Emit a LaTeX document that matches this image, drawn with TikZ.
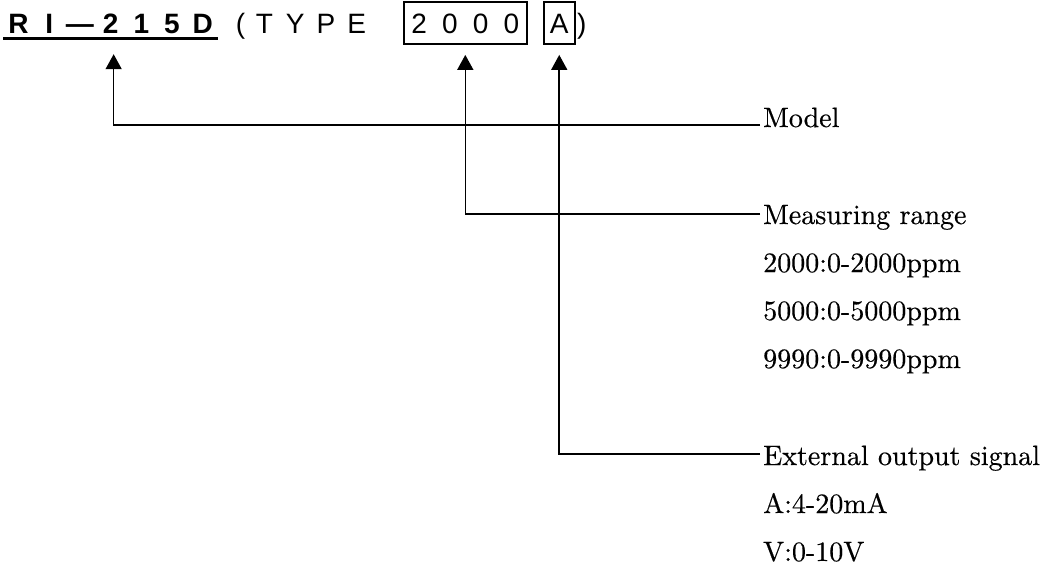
\documentclass[tikz,border=0pt]{standalone}
\usepackage{fontspec}
\setmainfont{lmroman10-regular.otf}[FakeBold=0.4]
\newfontfamily\gothic{Liberation Sans}
\usetikzlibrary{arrows.meta,positioning}
\newcommand\zw[1]{\makebox[30.7pt]{#1}}
\tikzset{x=1pt,y=-1pt,
  every node/.style={font=\fontsize{28}{30}\selectfont},
  title/.style={font=\fontsize{28}{30}\selectfont\gothic,inner sep=0pt,
    text height=20pt,text depth=0pt,anchor=base west},
  codebox/.style={title,draw,line width=1.8pt,inner ysep=11pt},
  label/.style={inner xsep=3pt,inner ysep=0pt,anchor=base west},
  lead/.style={line width=1.6pt,-{Triangle[width=16pt,length=15pt]}}}

\begin{document}
\begin{tikzpicture}
\useasboundingbox (0,0) rectangle (1044,566);
% type code
\node[title,font=\fontsize{28}{30}\selectfont\gothic\bfseries,inner ysep=5.5pt] (model) at (3,33)
  {\zw{R}\zw{I}\zw{—}\zw{2}\zw{1}\zw{5}\zw{D}};
\draw[line width=2.5pt] (model.south west) -- (model.south east);
\node[title] (type) at (model.base east) {\makebox[30.7pt][r]{(\kern4pt}\zw{T}\zw{Y}\zw{P}\zw{E}};
\node[codebox] (range) at (403,33) {\zw{2}\zw{0}\zw{0}\zw{0}};
\node[codebox] (signal) at (543,33) {\zw{A}};
\node[title] (close) at (577,33) {)};
% labels
\node[label] (lblmodel) at (760,127) {Model};
\node[label] (lblrange) at (760,224) {Measuring range};
\foreach \t [count=\i] in {2000:0-2000ppm,5000:0-5000ppm,9990:0-9990ppm}
  \node[label] (rng\i) at (760,224+48*\i) {\t};
\node[label] (lblsig) at (760,465) {External output signal};
\node[label] (sig1) at (760,513) {A:4-20mA};
\node[label] (sig2) at (760,561) {V:0-10V};
% leaders
\draw[lead,shorten >=15.5pt] ([yshift=2pt]lblmodel.base west) -| ([xshift=3pt]model.south);
\draw[lead,shorten >=10pt] ([yshift=10pt]lblrange.base west) -| (range.south);
\draw[lead,shorten >=10pt] ([yshift=11pt]lblsig.base west) -| (signal.south);
\end{tikzpicture}
\end{document}
